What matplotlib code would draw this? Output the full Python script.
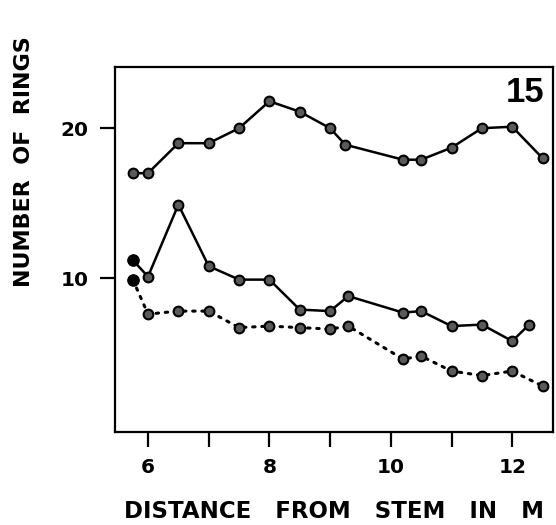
import matplotlib
matplotlib.use("Agg")
import matplotlib.pyplot as plt

# distance from stem (m) and ring counts
x_top = [5.75, 6.0, 6.5, 7.0, 7.5, 8.0, 8.5, 9.0, 9.25, 10.2, 10.5, 11.0, 11.5, 12.0, 12.5]
y_top = [17.0, 17.0, 19.0, 19.0, 20.0, 21.8, 21.1, 20.0, 18.9, 17.9, 17.9, 18.7, 20.0, 20.1, 18.0]

x_mid = [5.75, 6.0, 6.5, 7.0, 7.5, 8.0, 8.5, 9.0, 9.3, 10.2, 10.5, 11.0, 11.5, 12.0, 12.28]
y_mid = [11.2, 10.1, 14.9, 10.8, 9.9, 9.9, 7.9, 7.8, 8.8, 7.7, 7.8, 6.8, 6.9, 5.8, 6.9]

x_low = [5.75, 6.0, 6.5, 7.0, 7.5, 8.0, 8.5, 9.0, 9.3, 10.2, 10.5, 11.0, 11.5, 12.0, 12.5]
y_low = [9.9, 7.6, 7.8, 7.8, 6.7, 6.8, 6.7, 6.6, 6.8, 4.6, 4.8, 3.8, 3.5, 3.8, 2.8]

x_ticks = [6, 7, 8, 9, 10, 11, 12]
x_ticklabels = ["6", "", "8", "", "10", "", "12"]
y_ticks = [10, 20]
y_ticklabels = ["10", "20"]
panel_label = "15"

plt.rcParams["font.family"] = ["DejaVu Sans"]
plt.rcParams["font.weight"] = "bold"

fig = plt.figure(figsize=(5.56, 5.25), dpi=100)
ax = fig.add_axes([0.2068, 0.177, 0.7878, 0.695])

mk = dict(marker="o", markersize=7, markerfacecolor="#5a5a5a",
          markeredgecolor="black", markeredgewidth=1.5, color="black")

ax.plot(x_top, y_top, linestyle="-", linewidth=1.8, **mk)
ax.plot(x_mid, y_mid, linestyle="-", linewidth=1.8, **mk)
ax.plot(x_low, y_low, linestyle=(0, (0.8, 2.2)), linewidth=2.2,
        dash_capstyle="round", **mk)
# first points are solid black
ax.plot([x_mid[0], x_low[0]], [y_mid[0], y_low[0]], linestyle="none",
        marker="o", markersize=8, color="black")

ax.set_xlim(5.456, 12.672)
ax.set_ylim(-0.27, 24.07)

ax.set_xticks(x_ticks)
ax.set_xticklabels(x_ticklabels)
ax.set_yticks(y_ticks)
ax.set_yticklabels(y_ticklabels)
ax.tick_params(direction="out", length=11, width=1.6, labelsize=14.5, pad=8)

for s in ax.spines.values():
    s.set_linewidth(1.6)

ax.set_xlabel("DISTANCE   FROM   STEM   IN   M", fontsize=16.5, fontweight="bold",
              labelpad=16)
ax.set_ylabel("NUMBER  OF  RINGS", fontsize=16, fontweight="bold")
ax.yaxis.set_label_coords(-0.185, 0.74)

ax.text(0.98, 0.975, panel_label, transform=ax.transAxes, ha="right", va="top",
        fontsize=25, fontweight="bold", family="Liberation Sans")

fig.savefig("out.png", dpi=100)
